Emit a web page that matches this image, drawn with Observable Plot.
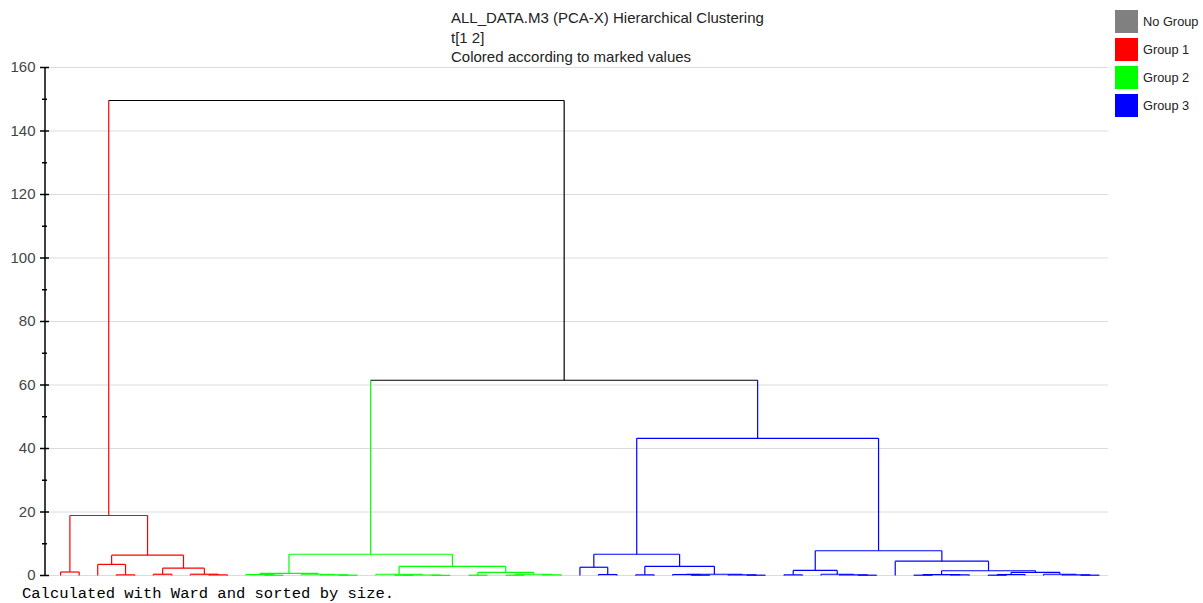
<!DOCTYPE html>
<html>
<head>
<meta charset="utf-8">
<script src="https://cdn.jsdelivr.net/npm/d3@7"></script>
<script src="https://cdn.jsdelivr.net/npm/@observablehq/plot@0.6"></script>
<style>
  html, body { margin: 0; padding: 0; background: #fff; }
  #wrap { position: relative; width: 1203px; height: 603px; overflow: hidden; font-family: "Liberation Sans", Arial, sans-serif; }
  #chart { position: absolute; left: 0; top: 0; }
  #title { position: absolute; left: 451px; top: 8px; font-size: 15px; line-height: 19.5px; color: #222; white-space: nowrap; }
  #legend { position: absolute; left: 1115px; top: 10px; }
  .li { position: relative; height: 28px; }
  .sw { position: absolute; left: 0; top: 0; width: 23px; height: 23px; }
  .lt { position: absolute; left: 28px; top: 0; line-height: 23px; font-size: 12.8px; color: #222; white-space: nowrap; }
  #foot { position: absolute; left: 22px; top: 587px; font-family: "Liberation Mono", "Courier New", monospace; font-size: 15.5px; line-height: 15px; color: #000; white-space: nowrap; }
</style>
</head>
<body>
<div id="wrap">
  <div id="chart"></div>
  <div id="title"></div>
  <div id="legend"></div>
  <div id="foot"></div>
</div>
<script>
// ---- text ----
const titleLines = ["ALL_DATA.M3 (PCA-X) Hierarchical Clustering", "t[1 2]", "Colored according to marked values"];
const footerText = "Calculated with Ward and sorted by size.";
const legendLabels = ["No Group", "Group 1", "Group 2", "Group 3"];
const legendColors = ["#808080", "#ff0000", "#00ff00", "#0000ff"];

// ---- data ----
// group of each leaf (ordered left to right)
const leafGroup = [
  1,1,1,1,1,1,1,1,1,1,
  2,2,2,2,2,2,2,2,2,2,2,2,2,2,2,2,2,2,
  3,3,3,3,3,3,3,3,3,3,3,3,3,3,3,3,3,3,3,3,3,3,3,3,3,3,3,3,3
];
// merges: [node, left child, right child, height]
const redMerges = [
  ["r1", 0, 1, 1.1], ["r2", 3, 4, 0.2], ["r3", 2, "r2", 3.5],
  ["r4", 5, 6, 0.4], ["r5", 8, 9, 0.2], ["r6", 7, "r5", 0.4],
  ["r7", "r4", "r6", 2.3], ["r8", "r3", "r7", 6.4], ["r9", "r1", "r8", 18.9]
];
const greenMerges = [
  ["g1", 11, 12, 0.1], ["g2", 10, "g1", 0.3], ["g3", 15, 16, 0.1],
  ["g4", 14, "g3", 0.2], ["g5", 13, "g4", 0.4], ["g6", "g2", "g5", 0.7],
  ["g7", 18, 19, 0.1], ["g8", 20, 21, 0.05], ["g9", "g7", "g8", 0.15],
  ["g10", 17, "g9", 0.4], ["g11", 22, 23, 0.1], ["g12", 24, 25, 0.1],
  ["g13", 26, 27, 0.2], ["g14", "g12", "g13", 0.4], ["g15", "g11", "g14", 1.0],
  ["g16", "g10", "g15", 2.9], ["g17", "g6", "g16", 6.7]
];
const blueMerges = [
  ["b1", 29, 30, 0.3], ["b2", 28, "b1", 2.6], ["b3", 31, 32, 0.2],
  ["b4", 34, 35, 0.1], ["b5", 33, "b4", 0.3], ["b6", 37, 38, 0.1],
  ["b7", 36, "b6", 0.2], ["b8", "b5", "b7", 0.4], ["b9", "b3", "b8", 2.9],
  ["b10", "b2", "b9", 6.7], ["b11", 39, 40, 0.2], ["b12", 43, 44, 0.1],
  ["b13", 42, "b12", 0.2], ["b14", 41, "b13", 0.4], ["b15", "b11", "b14", 1.6],
  ["b16", 46, 47, 0.1], ["b17", 48, 49, 0.2], ["b18", "b16", "b17", 0.3],
  ["b19", 50, 51, 0.1], ["b20", "b19", 52, 0.3], ["b21", 55, 56, 0.1],
  ["b22", 54, "b21", 0.2], ["b23", 53, "b22", 0.4], ["b24", "b20", "b23", 1.0],
  ["b25", "b18", "b24", 1.5], ["b26", 45, "b25", 4.5], ["b27", "b15", "b26", 7.8],
  ["b28", "b10", "b27", 43.2]
];
const topMerges = [
  ["k1", "g17", "b28", 61.5], ["k2", "r9", "k1", 149.6]
];
const yTicks = [0, 20, 40, 60, 80, 100, 120, 140, 160];
const yMinorTicks = [10, 30, 50, 70, 90, 110, 130, 150];
const linkColors = ["#000000", "#ff0000", "#00ff00", "#0000ff"];

// ---- build tree segments ----
const nodes = new Map();
leafGroup.forEach((g, i) => nodes.set(i, {x: i, h: 0, g}));
const segments = [];
for (const [id, a, b, h] of [...redMerges, ...greenMerges, ...blueMerges, ...topMerges]) {
  const l = nodes.get(a), r = nodes.get(b);
  const g = l.g === r.g ? l.g : 0;
  segments.push({x1: l.x, y1: l.h, x2: l.x, y2: h, g: l.g});
  segments.push({x1: r.x, y1: r.h, x2: r.x, y2: h, g: r.g});
  segments.push({x1: l.x, y1: h, x2: r.x, y2: h, g});
  nodes.set(id, {x: (l.x + r.x) / 2, h, g});
}

const xLeft = -0.6, xRight = leafGroup.length - 0.5;

const chart = Plot.plot({
  width: 1203,
  height: 603,
  marginTop: 67,
  marginBottom: 28,
  marginLeft: 49,
  marginRight: 95,
  style: {fontFamily: "'Liberation Sans', Arial, sans-serif", background: "#fff", color: "#000"},
  x: {domain: [xLeft, xRight], axis: null},
  y: {domain: [0, 160], axis: null},
  color: {type: "ordinal", domain: [0, 1, 2, 3], range: linkColors},
  marks: [
    Plot.gridY(yTicks, {stroke: "#dcdcdc", strokeOpacity: 1}),
    Plot.ruleX([xLeft], {y1: 0, y2: 160, dx: -4.5, stroke: "#000", strokeWidth: 1.5}),
    Plot.axisY(yTicks, {tickSize: 9, tickPadding: 5, fontSize: 15, fill: "#444", stroke: "#000", strokeWidth: 1.5, tickFormat: d => String(d)}),
    Plot.axisY(yMinorTicks, {tickSize: 5, dx: -2, stroke: "#000", strokeWidth: 1.5, tickFormat: () => ""}),
    Plot.link(segments, {x1: "x1", y1: "y1", x2: "x2", y2: "y2", stroke: "g", strokeWidth: 1.2})
  ]
});
document.getElementById("chart").appendChild(chart);

// title
document.getElementById("title").innerHTML = titleLines.map(t => `<div>${t}</div>`).join("");
// legend
document.getElementById("legend").innerHTML = legendLabels.map((t, i) =>
  `<div class="li"><div class="sw" style="background:${legendColors[i]}"></div><div class="lt">${t}</div></div>`).join("");
// footer
document.getElementById("foot").textContent = footerText;
</script>
</body>
</html>
